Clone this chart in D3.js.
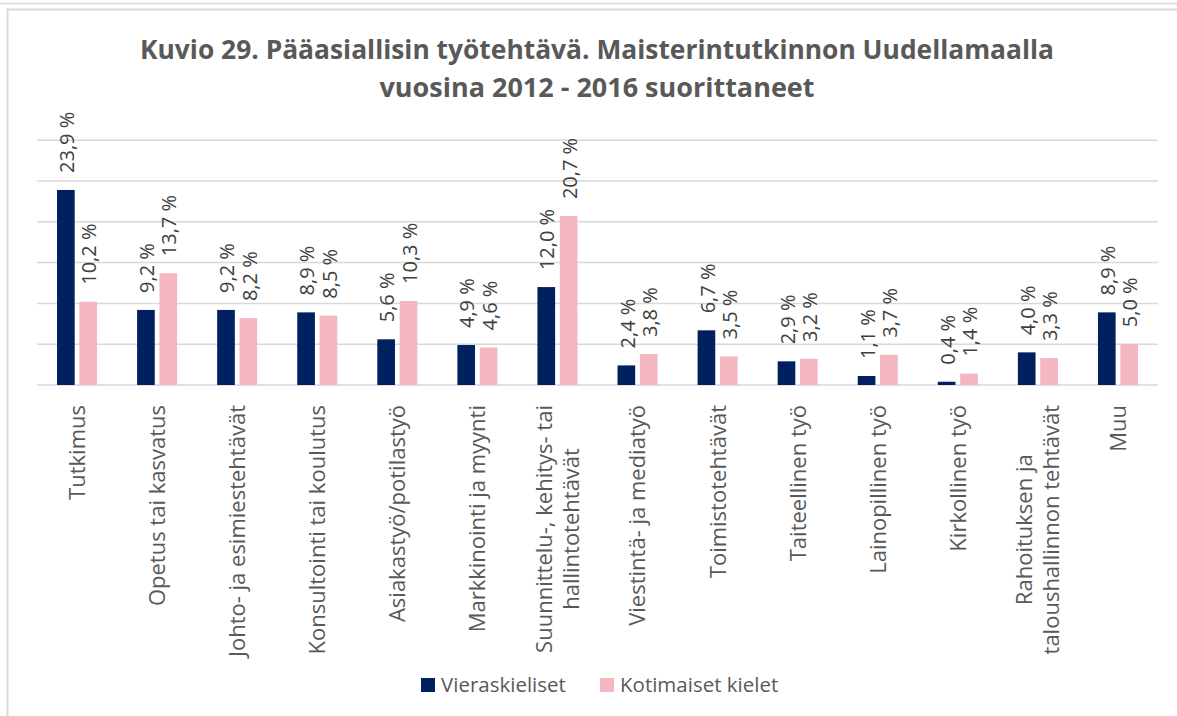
<!DOCTYPE html>
<html>
<head>
<meta charset="utf-8">
<script src="https://cdnjs.cloudflare.com/ajax/libs/d3/7.8.5/d3.min.js"></script>
<style>
  html, body { margin: 0; padding: 0; background: #ffffff; }
  svg { display: block; }
  text { font-family: "Open Sans", "Noto Sans", sans-serif; }
</style>
</head>
<body>
<svg id="chart" width="1177" height="716"></svg>
<script>
// ---- data ----
const titleLines = [
  "Kuvio 29. Pääasiallisin työtehtävä. Maisterintutkinnon Uudellamaalla",
  "vuosina 2012 - 2016 suorittaneet"
];
const categories = [
  "Tutkimus",
  "Opetus tai kasvatus",
  "Johto- ja esimiestehtävät",
  "Konsultointi tai koulutus",
  "Asiakastyö/potilastyö",
  "Markkinointi ja myynti",
  "Suunnittelu-, kehitys- tai\nhallintotehtävät",
  "Viestintä- ja mediatyö",
  "Toimistotehtävät",
  "Taiteellinen työ",
  "Lainopillinen työ",
  "Kirkollinen työ",
  "Rahoituksen ja\ntaloushallinnon tehtävät",
  "Muu"
];
const seriesNames = ["Vieraskieliset", "Kotimaiset kielet"];
const vieraskieliset = [23.9, 9.2, 9.2, 8.9, 5.6, 4.9, 12.0, 2.4, 6.7, 2.9, 1.1, 0.4, 4.0, 8.9];
const kotimaiset = [10.2, 13.7, 8.2, 8.5, 10.3, 4.6, 20.7, 3.8, 3.5, 3.2, 3.7, 1.4, 3.3, 5.0];
const yTicks = [0, 5, 10, 15, 20, 25, 30];
const seriesColors = ["#002060", "#F4B6C0"];

const seriesValues = [vieraskieliset, kotimaiset];
const fmt = v => d3.format(".1f")(v).replace(".", ",") + " %";

// ---- layout ----
const svg = d3.select("#chart");
const plotLeft = 37, plotRight = 1158, plotTop = 140.2, plotBottom = 385;

// frame
svg.append("line").attr("x1", 0).attr("x2", 1177).attr("y1", 3.5).attr("y2", 3.5)
  .attr("stroke", "#d9d9d9").attr("stroke-width", 1.5);
svg.append("rect").attr("x", 7.5).attr("y", 9.5).attr("width", 1300).attr("height", 900)
  .attr("fill", "none").attr("stroke", "#d9d9d9").attr("stroke-width", 2);

const x0 = d3.scaleBand().domain(categories).range([plotLeft, plotRight])
  .paddingInner(0.5).paddingOuter(0.25);
const x1 = d3.scaleBand().domain(seriesNames).range([0, x0.bandwidth()])
  .paddingInner(0.21).paddingOuter(0);
const y = d3.scaleLinear().domain([0, 30]).range([plotBottom, plotTop]);

// gridlines
svg.append("g").selectAll("line").data(yTicks).join("line")
  .attr("x1", plotLeft).attr("x2", plotRight)
  .attr("y1", d => y(d)).attr("y2", d => y(d))
  .attr("stroke", "#d9d9d9").attr("stroke-width", 1.5);

// bars
const groups = svg.append("g").selectAll("g").data(categories).join("g")
  .attr("transform", d => `translate(${x0(d)},0)`);

groups.selectAll("rect").data((c, i) => seriesNames.map((s, si) => ({s, si, v: seriesValues[si][i]})))
  .join("rect")
  .attr("x", d => x1(d.s))
  .attr("width", x1.bandwidth())
  .attr("y", d => y(d.v))
  .attr("height", d => y(0) - y(d.v))
  .attr("fill", d => seriesColors[d.si]);

// data labels
groups.selectAll("text.dl").data((c, i) => seriesNames.map((s, si) => ({s, si, v: seriesValues[si][i]})))
  .join("text").attr("class", "dl")
  .attr("transform", d => `translate(${x1(d.s) + x1.bandwidth() / 2 + 1},${y(d.v) - 17}) rotate(-90)`)
  .attr("text-anchor", "start")
  .attr("dy", "0.36em")
  .attr("font-size", 20)
  .attr("fill", "#404040")
  .text(d => fmt(d.v));

// category labels
const catG = svg.append("g").selectAll("g").data(categories).join("g")
  .attr("transform", d => `translate(${x0(d) + x0.bandwidth() / 2},405) rotate(-90)`);
catG.each(function(d) {
  const g = d3.select(this);
  const lines = d.split("\n");
  const lh = 27;
  const texts = lines.map((ln, i) => g.append("text")
    .attr("font-size", 22).attr("fill", "#595959")
    .attr("y", (i - (lines.length - 1) / 2) * lh)
    .attr("dy", "0.36em")
    .text(ln));
  const maxW = d3.max(texts, t => t.node().getComputedTextLength());
  texts.forEach(t => t.attr("x", -maxW / 2).attr("text-anchor", "middle"));
});

// title
const titleG = svg.append("g");
const targetW = [914, 435];
titleLines.forEach((t, i) => {
  titleG.append("text")
    .attr("x", 597).attr("y", 59 + i * 38)
    .attr("text-anchor", "middle")
    .attr("font-size", 27).attr("font-weight", "bold")
    .attr("fill", "#595959")
    .attr("textLength", targetW[i]).attr("lengthAdjust", "spacingAndGlyphs")
    .text(t);
});

// legend
const legendItems = [
  {name: seriesNames[0], x: 421, color: seriesColors[0]},
  {name: seriesNames[1], x: 600, color: seriesColors[1]}
];
const lg = svg.append("g").selectAll("g").data(legendItems).join("g")
  .attr("transform", d => `translate(${d.x},678)`);
lg.append("rect").attr("width", 14).attr("height", 14).attr("fill", d => d.color);
lg.append("text").attr("x", 20).attr("y", 7).attr("dy", "0.36em")
  .attr("font-size", 20.5).attr("fill", "#595959").text(d => d.name);
</script>
</body>
</html>
